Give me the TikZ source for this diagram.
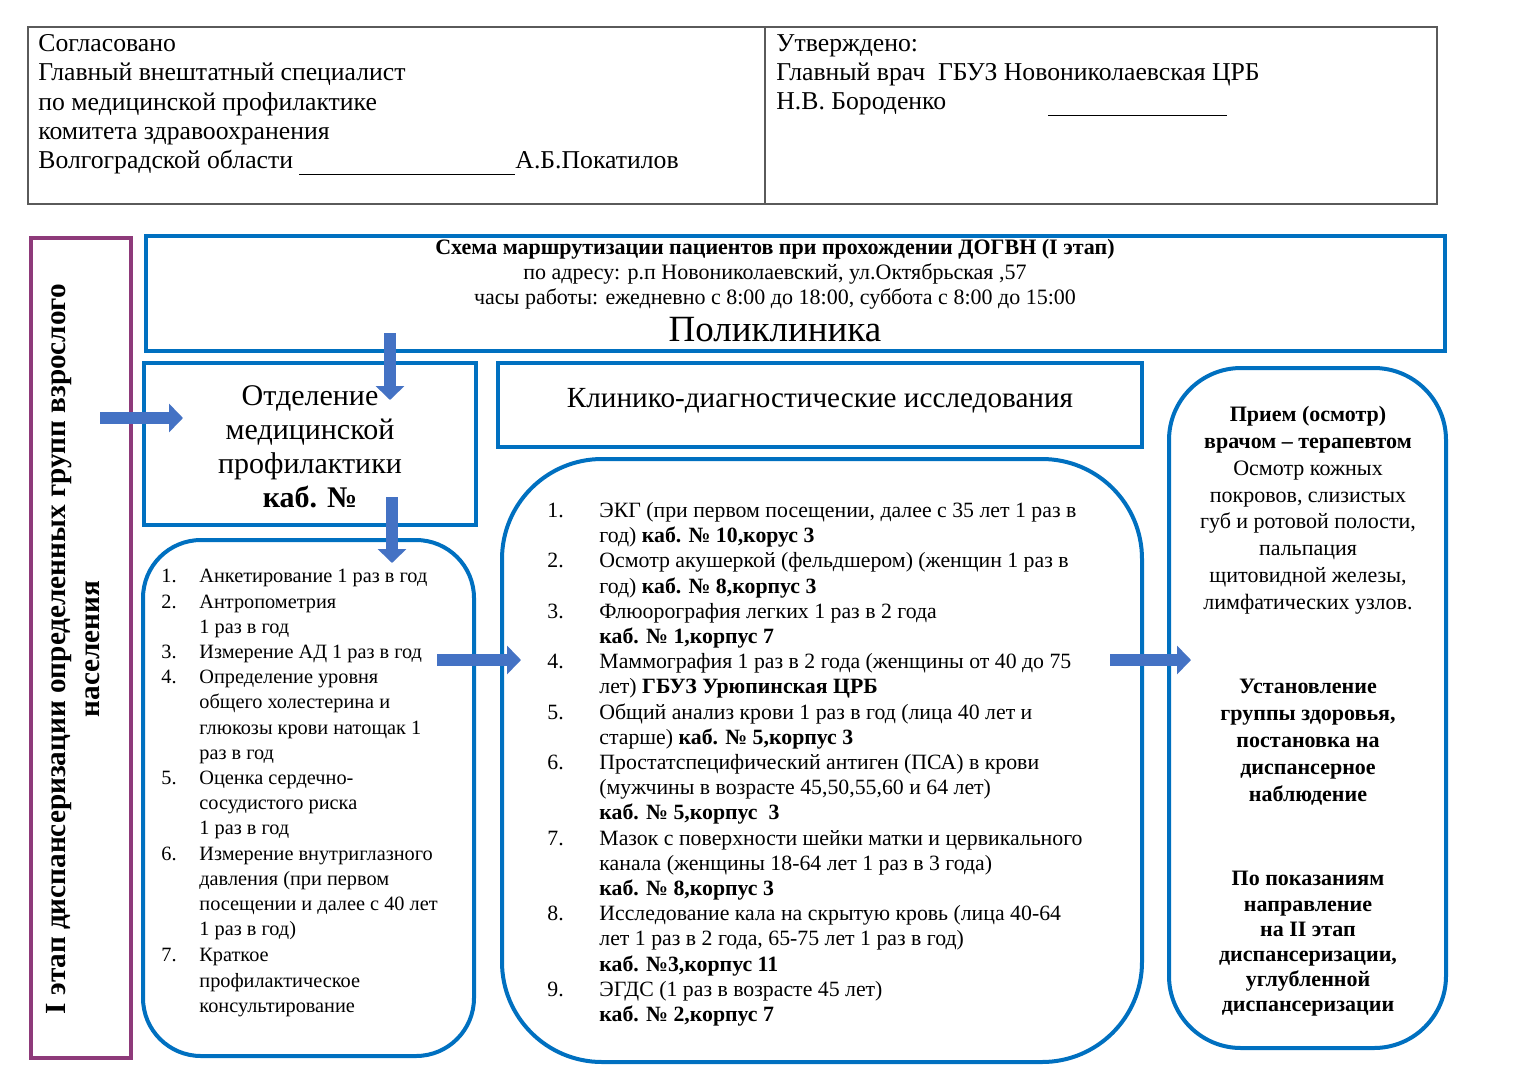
\documentclass[tikz,border=0pt]{standalone}
\usepackage{fontspec}
\setmainfont{Liberation Serif}
\usetikzlibrary{arrows.meta, positioning}
\definecolor{boxblue}{RGB}{0,112,192}
\definecolor{arrowblue}{RGB}{68,114,196}
\definecolor{stagepurple}{RGB}{142,58,122}
\definecolor{tablegray}{RGB}{90,90,90}
\newcommand{\pnum}[1]{\makebox[19pt][l]{#1}}
\newcommand{\cnum}[1]{\makebox[26pt][l]{#1}}
\tikzset{
  hdrcell/.style={rectangle, draw=tablegray, line width=0.8pt, inner sep=0pt},
  bluebox/.style={rectangle, draw=boxblue, line width=2pt, inner sep=0pt},
  roundbox/.style={bluebox, rounded corners=#1},
  stagebox/.style={rectangle, draw=stagepurple, line width=2pt, inner sep=0pt},
  blockarrow/.style={-{Triangle[width=14pt,length=7pt]}, line width=6pt, draw=arrowblue},
  hdrtext/.style={inner sep=0pt, align=left, anchor=north west, font=\fontsize{12.85}{14.65}\selectfont},
  listtext/.style={inner sep=0pt, align=left, anchor=north west, font=\fontsize{#1}{12.6}\selectfont},
  docttext/.style={inner sep=0pt, align=center, anchor=north, font=\fontsize{11}{#1}\selectfont},
  doctbold/.style={docttext=#1, font=\bfseries\fontsize{11}{#1}\selectfont},
}

\begin{document}
\begin{tikzpicture}[x=0.5pt, y=-0.5pt]
\fill[white] (0,0) rectangle (1536,1087);
\useasboundingbox (0,0) rectangle (1536,1087);

% Header table
\node[hdrcell, minimum width=368.5pt, minimum height=88.5pt] (agree) at (396.5,115.5) {};
\node[hdrcell, minimum width=336pt, minimum height=88.5pt] (approve) at (1101,115.5) {};
\node[hdrtext] (agreetext) at (38,34) {Согласовано\\
Главный внештатный специалист\\
по медицинской профилактике\\
комитета здравоохранения\\
Волгоградской области \rule[-3pt]{108pt}{0.5pt}А.Б.Покатилов};
\node[hdrtext] (approvetext) at (776,34) {Утверждено:\\
Главный врач\ \ ГБУЗ Новониколаевская ЦРБ\\
Н.В. Бороденко\hspace*{51pt}\rule[-3pt]{89.5pt}{0.5pt}};

% Stage box
\node[stagebox, minimum width=50pt, minimum height=410pt] (stage) at (81,648) {};
\node[rotate=90, align=center, inner sep=0pt, font=\bfseries\fontsize{14.6}{17.2}\selectfont] (stagetext) at (73,649)
  {I этап диспансеризации определенных групп взрослого\\ населения};

% Title box
\node[bluebox, minimum width=649.5pt, minimum height=57.5pt] (title) at (795.5,293.5) {};
\node[inner sep=0pt, align=center, anchor=north, font=\fontsize{11}{12.5}\selectfont] (titletext) at (775,239)
  {\textbf{Схема маршрутизации пациентов при прохождении ДОГВН (I этап)}\\
   по адресу: р.п Новониколаевский, ул.Октябрьская ,57\\
   часы работы: ежедневно с 8:00 до 18:00, суббота с 8:00 до 15:00};
\node[inner sep=0pt, anchor=base, font=\fontsize{18.5}{20}\selectfont] (poly) at (775,341) {Поликлиника};

% Prevention department
\node[bluebox, minimum width=166pt, minimum height=81pt] (prof) at (310,444) {};
\node[align=center, inner sep=0pt, font=\fontsize{15}{17}\selectfont] (proftitle) at (310,447)
  {Отделение\\ медицинской\\ профилактики\\ \textbf{каб. №}};

% Clinical diagnostics
\node[bluebox, minimum width=322pt, minimum height=42pt] (clin) at (820,405) {};
\node[inner sep=0pt, font=\fontsize{14.6}{16}\selectfont] (clintitle) at (820,401)
  {Клинико-диагностические исследования};

% Rounded lists
\node[roundbox=29pt, minimum width=165.5pt, minimum height=258pt] (proflist) at (308.5,798) {};
\node[listtext=10.15] (proftext) at (161,569) {%
\pnum{1.}Анкетирование 1 раз в год\\
\pnum{2.}Антропометрия\\
\pnum{}1 раз в год\\
\pnum{3.}Измерение АД 1 раз в год\\
\pnum{4.}Определение уровня\\
\pnum{}общего холестерина и\\
\pnum{}глюкозы крови натощак 1\\
\pnum{}раз в год\\
\pnum{5.}Оценка сердечно-\\
\pnum{}сосудистого риска\\
\pnum{}1 раз в год\\
\pnum{6.}Измерение внутриглазного\\
\pnum{}давления (при первом\\
\pnum{}посещении и далее с 40 лет\\
\pnum{}1 раз в год)\\[0.5pt]
\pnum{7.}Краткое\\
\pnum{}профилактическое\\
\pnum{}консультирование};

\node[roundbox=50pt, minimum width=320pt, minimum height=301.5pt] (clinlist) at (822,760.5) {};
\node[listtext=10.9] (clintext) at (547,502) {%
\cnum{1.}ЭКГ (при первом посещении, далее с 35 лет 1 раз в\\
\cnum{}год) \textbf{каб. № 10,корус 3}\\
\cnum{2.}Осмотр акушеркой (фельдшером) (женщин 1 раз в\\
\cnum{}год) \textbf{каб. № 8,корпус 3}\\
\cnum{3.}Флюорография легких 1 раз в 2 года\\
\cnum{}\textbf{каб. № 1,корпус 7}\\
\cnum{4.}Маммография 1 раз в 2 года (женщины от 40 до 75\\
\cnum{}лет) \textbf{ГБУЗ Урюпинская ЦРБ}\\
\cnum{5.}Общий анализ крови 1 раз в год (лица 40 лет и\\
\cnum{}старше) \textbf{каб. № 5,корпус 3}\\
\cnum{6.}Простатспецифический антиген (ПСА) в крови\\
\cnum{}(мужчины в возрасте 45,50,55,60 и 64 лет)\\
\cnum{}\textbf{каб. № 5,корпус\ \ 3}\\
\cnum{7.}Мазок с поверхности шейки матки и цервикального\\
\cnum{}канала (женщины 18-64 лет 1 раз в 3 года)\\
\cnum{}\textbf{каб. № 8,корпус 3}\\
\cnum{8.}Исследование кала на скрытую кровь (лица 40-64\\
\cnum{}лет 1 раз в 2 года, 65-75 лет 1 раз в год)\\
\cnum{}\textbf{каб. №3,корпус 11}\\
\cnum{9.}ЭГДС (1 раз в возрасте 45 лет)\\
\cnum{}\textbf{каб. № 2,корпус 7}};

% Therapist
\node[roundbox=36pt, minimum width=138.5pt, minimum height=340pt] (doctor) at (1307.5,708) {};
\node[docttext=13.4] (doctor1) at (1308,406) {\textbf{Прием (осмотр)}\\
\textbf{врачом – терапевтом}\\
Осмотр кожных\\
покровов, слизистых\\
губ и ротовой полости,\\
пальпация\\
щитовидной железы,\\
лимфатических узлов.};
\node[doctbold=13.5] (doctor2) at (1308,679) {Установление\\
группы здоровья,\\
постановка на\\
диспансерное\\
наблюдение};
\node[doctbold=12.6] (doctor3) at (1308,871) {По показаниям\\
направление\\
на II этап\\
диспансеризации,\\
углубленной\\
диспансеризации};

% Arrows
\coordinate (stageS) at (100,418);
\coordinate (stageE) at (183,418);
\coordinate (titleS) at (390,333);
\coordinate (titleE) at (390,400);
\coordinate (profS) at (392,497);
\coordinate (profE) at (392,563);
\coordinate (listS) at (437,660);
\coordinate (listE) at (521,660);
\coordinate (clinS) at (1110,660);
\coordinate (clinE) at (1191,660);
\draw[blockarrow] (stageS) -- (stageE);
\draw[blockarrow] (titleS) -- (titleE);
\draw[blockarrow] (profS) -- (profE);
\draw[blockarrow] (listS) -- (listE);
\draw[blockarrow] (clinS) -- (clinE);

\end{tikzpicture}
\end{document}
